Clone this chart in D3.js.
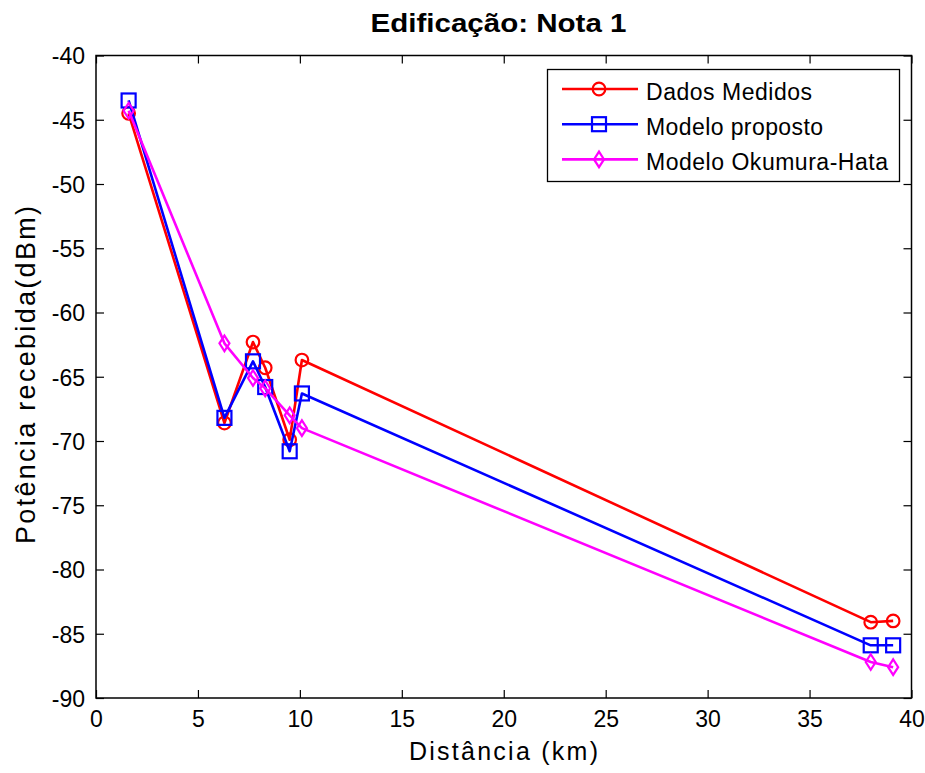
<!DOCTYPE html>
<html>
<head>
<meta charset="utf-8">
<script src="https://cdn.jsdelivr.net/npm/d3@7"></script>
<style>
  html, body { margin: 0; padding: 0; background: #fff; }
  svg text { font-family: "Liberation Sans", Arial, Helvetica, sans-serif; fill: #000; }
</style>
</head>
<body>
<svg id="chart" width="925" height="773"></svg>
<script>
// Distance of each measurement point (km)
const distancias = [1.6, 6.3, 7.7, 8.3, 9.5, 10.1, 38.0, 39.1];
// Received power (dBm) per series
const dadosMedidos = [-44.5, -68.6, -62.3, -64.3, -69.9, -63.7, -84.1, -84.0];
const modeloProposto = [-43.5, -68.2, -63.8, -65.8, -70.8, -66.3, -85.9, -85.9];
const modeloOkumuraHata = [-44.3, -62.4, -65.1, -65.9, -68.0, -69.0, -87.2, -87.6];
const xTicks = [0, 5, 10, 15, 20, 25, 30, 35, 40];
const yTicks = [-40, -45, -50, -55, -60, -65, -70, -75, -80, -85, -90];

const series = [
  { nome: "Dados Medidos", valores: dadosMedidos, cor: "#ff0000", marcador: "circle", largura: 166 },
  { nome: "Modelo proposto", valores: modeloProposto, cor: "#0000ff", marcador: "square", largura: 177 },
  { nome: "Modelo Okumura-Hata", valores: modeloOkumuraHata, cor: "#ff00ff", marcador: "diamond", largura: 242 }
];

const svg = d3.select("#chart");
const mLeft = 96, mRight = 911.5, mTop = 55.5, mBottom = 698;

const x = d3.scaleLinear().domain([0, 40]).range([mLeft, mRight]);
const y = d3.scaleLinear().domain([-90, -40]).range([mBottom, mTop]);

// Marker glyphs: open circle, open square, open diamond
function marcador(g, tipo, cor) {
  if (tipo === "circle") {
    g.append("circle").attr("r", 6.3).attr("fill", "none").attr("stroke", cor).attr("stroke-width", 2.2);
  } else if (tipo === "square") {
    g.append("rect").attr("x", -7).attr("y", -7).attr("width", 14).attr("height", 14)
      .attr("fill", "none").attr("stroke", cor).attr("stroke-width", 2.2);
  } else {
    g.append("path").attr("d", "M0,-7.8L5,0L0,7.8L-5,0Z")
      .attr("fill", "none").attr("stroke", cor).attr("stroke-width", 2.2);
  }
}

const linha = d3.line().x(d => x(d[0])).y(d => y(d[1]));

series.forEach(s => {
  const pts = distancias.map((d, i) => [d, s.valores[i]]);
  svg.append("path").datum(pts).attr("d", linha)
    .attr("fill", "none").attr("stroke", s.cor).attr("stroke-width", 2.6)
    .attr("stroke-linejoin", "round");
  pts.forEach(p => {
    const g = svg.append("g").attr("transform", `translate(${x(p[0])},${y(p[1])})`);
    marcador(g, s.marcador, s.cor);
  });
});

// Axes: ticks pointing inward on all four sides
const tickLen = 8;
const fontTick = "23px";
const fmt = d => String(d);

const axB = svg.append("g").attr("transform", `translate(0,${mBottom})`)
  .call(d3.axisBottom(x).tickValues(xTicks).tickSizeInner(-tickLen).tickSizeOuter(0).tickPadding(13).tickFormat(fmt));
const axT = svg.append("g").attr("transform", `translate(0,${mTop})`)
  .call(d3.axisTop(x).tickValues(xTicks).tickSizeInner(-tickLen).tickSizeOuter(0).tickFormat(""));
const axL = svg.append("g").attr("transform", `translate(${mLeft},0)`)
  .call(d3.axisLeft(y).tickValues(yTicks).tickSizeInner(-tickLen).tickSizeOuter(0).tickPadding(11).tickFormat(fmt));
const axR = svg.append("g").attr("transform", `translate(${mRight},0)`)
  .call(d3.axisRight(y).tickValues(yTicks).tickSizeInner(-tickLen).tickSizeOuter(0).tickFormat(""));

[axB, axT, axL, axR].forEach(a => {
  a.select(".domain").remove();
  a.selectAll("line").attr("stroke", "#000").attr("stroke-width", 1.2);
  a.selectAll("text").style("font-size", fontTick).attr("fill", "#000");
});
axB.selectAll("text").attr("dy", "0.71em");
axL.selectAll("text").attr("dy", "0.36em");

svg.append("rect").attr("x", mLeft).attr("y", mTop).attr("width", mRight - mLeft).attr("height", mBottom - mTop)
  .attr("fill", "none").attr("stroke", "#000").attr("stroke-width", 1.5);

// Titles
svg.append("text").attr("x", 498.5).attr("y", 32).attr("text-anchor", "middle")
  .attr("textLength", 256).attr("lengthAdjust", "spacingAndGlyphs")
  .style("font-size", "25px").style("font-weight", "bold").text("Edificação: Nota 1");
svg.append("text").attr("x", 503.5).attr("y", 760).attr("text-anchor", "middle")
  .attr("textLength", 189).attr("lengthAdjust", "spacing")
  .style("font-size", "25px").text("Distância (km)");
svg.append("text").attr("transform", `translate(35,375) rotate(-90)`).attr("text-anchor", "middle")
  .attr("textLength", 338).attr("lengthAdjust", "spacing")
  .style("font-size", "27px").text("Potência recebida(dBm)");

// Legend
const lg = svg.append("g");
lg.append("rect").attr("x", 547.5).attr("y", 69.5).attr("width", 352).attr("height", 112)
  .attr("fill", "#fff").attr("stroke", "#000").attr("stroke-width", 1.3);
series.forEach((s, i) => {
  const yy = 89 + i * 35.2;
  lg.append("line").attr("x1", 562).attr("x2", 638).attr("y1", yy).attr("y2", yy)
    .attr("stroke", s.cor).attr("stroke-width", 2.6);
  const g = lg.append("g").attr("transform", `translate(599,${yy})`);
  marcador(g, s.marcador, s.cor);
  lg.append("text").attr("x", 646).attr("y", yy + 11)
    .attr("textLength", s.largura).attr("lengthAdjust", "spacing")
    .style("font-size", "23px").text(s.nome);
});
</script>
</body>
</html>
